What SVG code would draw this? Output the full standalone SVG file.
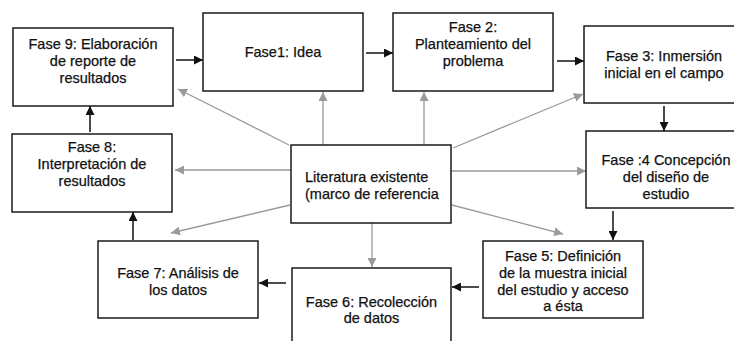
<svg xmlns="http://www.w3.org/2000/svg" width="734" height="341" viewBox="0 0 734 341">
<style>
.box{fill:#fff;stroke:#1a1a1a;stroke-width:1.5}
.t{font-family:"Liberation Sans",Arial,sans-serif;font-size:14.5px;fill:#111;stroke:#111;stroke-width:0.25;text-anchor:middle}
.tl{font-family:"Liberation Sans",Arial,sans-serif;font-size:14.5px;fill:#111;stroke:#111;stroke-width:0.25;text-anchor:start}
.blk{stroke:#111;stroke-width:1.5;fill:none;marker-end:url(#ab)}
.gry{stroke:#9a9a9a;stroke-width:1.3;fill:none;marker-end:url(#ag)}
</style>
<defs>
<marker id="ab" viewBox="0 0 10 10" refX="10" refY="5" markerWidth="9" markerHeight="9" markerUnits="userSpaceOnUse" orient="auto">
<path d="M0,0 L10,5 L0,10 z" fill="#111"/>
</marker>
<marker id="ag" viewBox="0 0 10 10" refX="10" refY="5" markerWidth="9" markerHeight="9" markerUnits="userSpaceOnUse" orient="auto">
<path d="M0,0 L10,5 L0,10 z" fill="#9a9a9a"/>
</marker>
</defs>
<rect width="734" height="341" fill="#fff"/>
<g id="connectors">
<line class="blk" x1="176" y1="60" x2="203" y2="60"/>
<line class="blk" x1="366" y1="53" x2="393" y2="53"/>
<line class="blk" x1="557" y1="61" x2="584" y2="61"/>
<line class="blk" x1="664" y1="106" x2="664" y2="131"/>
<line class="blk" x1="613" y1="211" x2="613" y2="240"/>
<line class="blk" x1="479" y1="287" x2="452" y2="287"/>
<line class="blk" x1="286" y1="283" x2="259" y2="283"/>
<line class="blk" x1="133" y1="240" x2="133" y2="212"/>
<line class="blk" x1="90" y1="132" x2="90" y2="106"/>
<line class="gry" x1="289" y1="145" x2="178" y2="89"/>
<line class="gry" x1="323" y1="145" x2="323" y2="92"/>
<line class="gry" x1="424" y1="145" x2="424" y2="92"/>
<line class="gry" x1="453" y1="148" x2="583" y2="94"/>
<line class="gry" x1="451" y1="171" x2="586" y2="171"/>
<line class="gry" x1="452" y1="205" x2="563" y2="234"/>
<line class="gry" x1="372" y1="223" x2="372" y2="267"/>
<line class="gry" x1="290" y1="205" x2="171" y2="233"/>
<line class="gry" x1="291" y1="170" x2="175" y2="170"/>
</g>
<g id="fase9"><rect class="box" x="13" y="28" width="160" height="78"/>
<text class="t" x="93" y="49">Fase 9: Elaboración</text><text class="t" x="93" y="66">de reporte de</text><text class="t" x="93" y="83">resultados</text></g>
<g id="fase1"><rect class="box" x="203" y="13" width="160" height="78"/>
<text class="t" x="283" y="57">Fase1: Idea</text></g>
<g id="fase2"><rect class="box" x="393" y="13" width="160" height="78"/>
<text class="t" x="473" y="32">Fase 2:</text><text class="t" x="473" y="49">Planteamiento del</text><text class="t" x="473" y="66">problema</text></g>
<g id="fase3"><rect class="box" x="584" y="26" width="160" height="77"/>
<text class="t" x="664" y="61">Fase 3: Inmersión</text><text class="t" x="664" y="78">inicial en el campo</text></g>
<g id="fase4"><rect class="box" x="586" y="131" width="160" height="77"/>
<text class="t" x="666" y="165">Fase :4 Concepción</text><text class="t" x="666" y="182">del diseño de</text><text class="t" x="666" y="199">estudio</text></g>
<g id="fase5"><rect class="box" x="483" y="241" width="160" height="77"/>
<text class="t" x="563" y="261">Fase 5: Definición</text><text class="t" x="563" y="278">de la muestra inicial</text><text class="t" x="563" y="295">del estudio y acceso</text><text class="t" x="563" y="311">a ésta</text></g>
<g id="fase6"><rect class="box" x="292" y="268" width="159" height="90"/>
<text class="t" x="371.5" y="307">Fase 6: Recolección</text><text class="t" x="371.5" y="323">de datos</text></g>
<g id="fase7"><rect class="box" x="98" y="241" width="160" height="77"/>
<text class="t" x="178" y="278">Fase 7: Análisis de</text><text class="t" x="178" y="295">los datos</text></g>
<g id="fase8"><rect class="box" x="12" y="134" width="160" height="78"/>
<text class="t" x="92" y="152">Fase 8:</text><text class="t" x="92" y="169">Interpretación de</text><text class="t" x="92" y="186">resultados</text></g>
<g id="literatura"><rect class="box" x="291" y="145" width="160" height="78"/>
<text class="tl" x="305" y="182">Literatura existente</text><text class="tl" x="305" y="199">(marco de referencia</text></g>
</svg>
